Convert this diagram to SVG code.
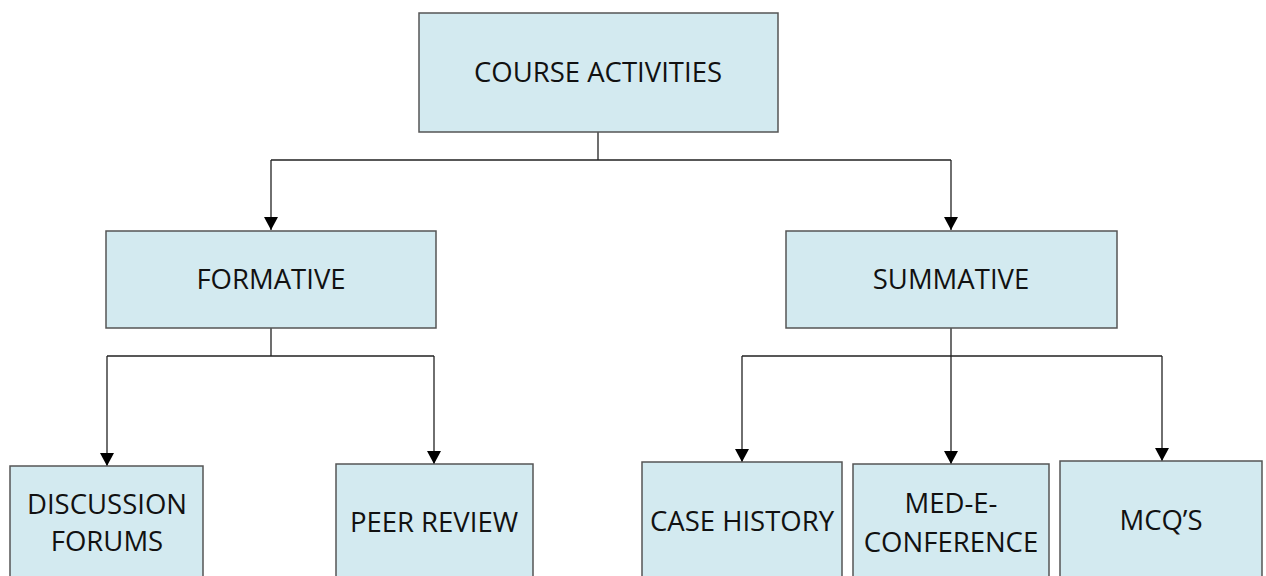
<svg xmlns="http://www.w3.org/2000/svg" width="1266" height="576" viewBox="0 0 1266 576">
  <defs>
    <style>
      .box { fill: #d3eaf0; stroke: #555; stroke-width: 1.5; }
      .lbl { font-family: "Open Sans", "Liberation Sans", sans-serif; font-size: 27.5px; fill: #111; text-anchor: middle; }
      .conn { fill: none; stroke: #222; stroke-width: 1.3; }
    </style>
    <marker id="arr" viewBox="0 0 13 14" refX="13" refY="7" markerWidth="13" markerHeight="14" markerUnits="userSpaceOnUse" orient="auto">
      <path d="M0,0 L13,7 L0,14 Z" fill="#000"/>
    </marker>
  </defs>
  <rect width="1266" height="576" fill="#fff"/>

  <g id="connectors">
    <path class="conn" d="M598,132 V160 M271,160 H951"/>
    <line class="conn" x1="271" y1="160" x2="271" y2="230" marker-end="url(#arr)"/>
    <line class="conn" x1="951" y1="160" x2="951" y2="230" marker-end="url(#arr)"/>
    <path class="conn" d="M271,328 V356 M107,356 H434"/>
    <line class="conn" x1="107" y1="356" x2="107" y2="466" marker-end="url(#arr)"/>
    <line class="conn" x1="434" y1="356" x2="434" y2="464" marker-end="url(#arr)"/>
    <path class="conn" d="M951,328 V356 M742,356 H1162"/>
    <line class="conn" x1="742" y1="356" x2="742" y2="462" marker-end="url(#arr)"/>
    <line class="conn" x1="951" y1="356" x2="951" y2="464" marker-end="url(#arr)"/>
    <line class="conn" x1="1162" y1="356" x2="1162" y2="461" marker-end="url(#arr)"/>
  </g>

  <g id="course-activities">
    <rect class="box" x="419" y="13" width="359" height="119"/>
    <text class="lbl" x="598" y="82">COURSE ACTIVITIES</text>
  </g>
  <g id="formative">
    <rect class="box" x="106" y="231" width="330" height="97"/>
    <text class="lbl" x="271" y="289">FORMATIVE</text>
  </g>
  <g id="summative">
    <rect class="box" x="786" y="231" width="331" height="97"/>
    <text class="lbl" x="951" y="289">SUMMATIVE</text>
  </g>
  <g id="discussion-forums">
    <rect class="box" x="10" y="466" width="193" height="120"/>
    <text class="lbl" x="107" y="514">DISCUSSION</text>
    <text class="lbl" x="107" y="551">FORUMS</text>
  </g>
  <g id="peer-review">
    <rect class="box" x="336" y="464" width="197" height="122"/>
    <text class="lbl" x="434" y="532">PEER REVIEW</text>
  </g>
  <g id="case-history">
    <rect class="box" x="642" y="462" width="200" height="124"/>
    <text class="lbl" x="742" y="531">CASE HISTORY</text>
  </g>
  <g id="med-e-conference">
    <rect class="box" x="853" y="464" width="196" height="122"/>
    <text class="lbl" x="951" y="513">MED-E-</text>
    <text class="lbl" x="951" y="552">CONFERENCE</text>
  </g>
  <g id="mcqs">
    <rect class="box" x="1060" y="461" width="202" height="125"/>
    <text class="lbl" x="1161" y="530">MCQ’S</text>
  </g>
</svg>
